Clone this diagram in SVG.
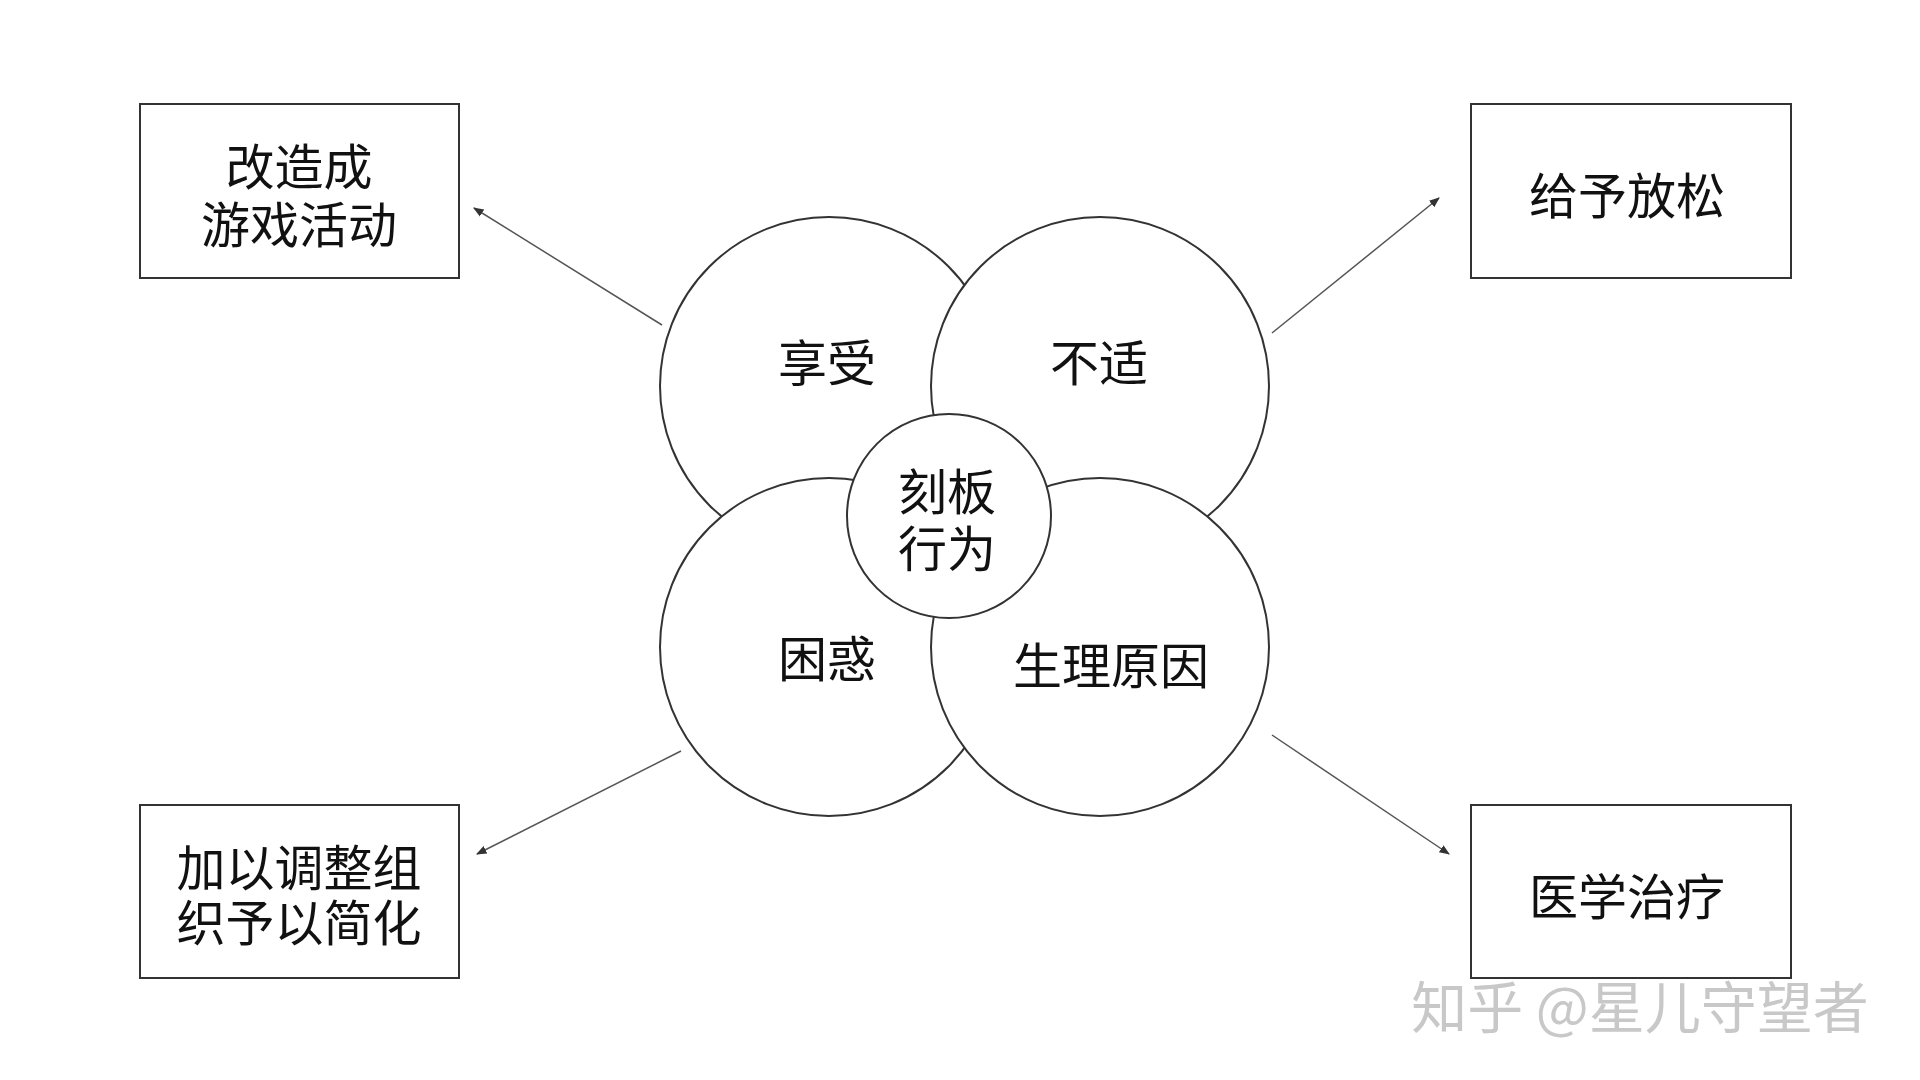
<svg xmlns="http://www.w3.org/2000/svg" width="1920" height="1080" viewBox="0 0 1920 1080">
<defs>
<style>
.box{fill:#fff;stroke:#333;stroke-width:2}
.c{fill:#fff;stroke:#333;stroke-width:2}
.t{font-family:"Noto Sans CJK SC",sans-serif;font-size:49px;fill:#111;text-anchor:middle;dominant-baseline:central}
.a{stroke:#555;stroke-width:1.5;fill:none;marker-end:url(#ah)}
</style>
<marker id="ah" viewBox="0 0 10 10" refX="9" refY="5" markerWidth="7" markerHeight="7" orient="auto"><path d="M0,1 L10,5 L0,9 z" fill="#333"/></marker>
</defs>
<rect width="1920" height="1080" fill="#fff"/>
<g id="box-tl"><rect class="box" x="140" y="104" width="319" height="174"/><text class="t" x="299" y="163">改造成</text><text class="t" x="299" y="221">游戏活动</text></g>
<g id="box-tr"><rect class="box" x="1471" y="104" width="320" height="174"/><text class="t" x="1627" y="192">给予放松</text></g>
<g id="box-bl"><rect class="box" x="140" y="805" width="319" height="173"/><text class="t" x="299" y="864">加以调整组</text><text class="t" x="299" y="919">织予以简化</text></g>
<g id="box-br"><rect class="box" x="1471" y="805" width="320" height="173"/><text class="t" x="1627" y="893">医学治疗</text></g>
<g id="c-tl"><circle class="c" cx="829" cy="386" r="169"/><text class="t" x="827" y="359">享受</text></g>
<g id="c-tr"><circle class="c" cx="1100" cy="386" r="169"/><text class="t" x="1099" y="359">不适</text></g>
<g id="c-bl"><circle class="c" cx="829" cy="647" r="169"/><text class="t" x="827" y="655">困惑</text></g>
<g id="c-br"><circle class="c" cx="1100" cy="647" r="169"/><text class="t" x="1111" y="662">生理原因</text></g>
<g id="c-center"><circle class="c" cx="949" cy="516" r="102"/><text class="t" x="947" y="488">刻板</text><text class="t" x="947" y="545">行为</text></g>
<g id="connectors">
<line class="a" x1="662" y1="325" x2="474" y2="208"/>
<line class="a" x1="1272" y1="333" x2="1439" y2="198"/>
<line class="a" x1="681" y1="751" x2="477" y2="854"/>
<line class="a" x1="1272" y1="735" x2="1449" y2="854"/>
</g>
<text x="1640" y="1003" style="font-family:'Noto Sans CJK SC',sans-serif;font-size:56px;fill:#c8c8c8;text-anchor:middle;dominant-baseline:central">知乎 @星儿守望者</text>
</svg>
